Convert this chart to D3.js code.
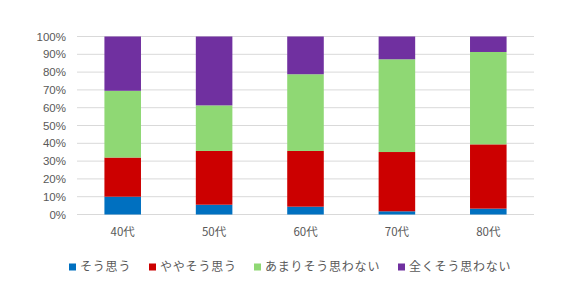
<!DOCTYPE html>
<html>
<head>
<meta charset="utf-8">
<script src="https://cdn.jsdelivr.net/npm/d3@7"></script>
<style>
  body { margin: 0; background: #fff; }
  text { font-family: "Noto Sans CJK JP", "Liberation Sans", sans-serif; }
</style>
</head>
<body>
<svg></svg>
<script>
/** Chart data */
let categories = ['40代', '50代', '60代', '70代', '80代'];
let seriesNames = ['そう思う', 'ややそう思う', 'あまりそう思わない', '全くそう思わない'];
let soOmou = [10, 5.5, 4.4, 1.8, 3.3];
let yayaSoOmou = [22, 30.2, 31.3, 33.3, 36.1];
let amariOmowanai = [37.5, 25.6, 43.1, 52.1, 51.9];
let mattakuOmowanai = [30.5, 38.7, 21.2, 12.8, 8.7];
let yTicks = [0, 10, 20, 30, 40, 50, 60, 70, 80, 90, 100];

let colors = ['#0070C0', '#CC0000', '#8FD874', '#7030A0'];

let width = 565;
let height = 298;

let svg = d3.select('svg')
    .attr('width', width)
    .attr('height', height);

// rows for the stack
let rows = categories.map((c, i) => ({
    cat: c,
    s0: soOmou[i],
    s1: yayaSoOmou[i],
    s2: amariOmowanai[i],
    s3: mattakuOmowanai[i]
}));

let stack = d3.stack().keys(['s0', 's1', 's2', 's3']);
let layers = stack(rows);

let xScale = d3.scaleBand()
    .domain(categories)
    .range([77, 534])
    .paddingInner(0.6)
    .paddingOuter(0.3);

let yScale = d3.scaleLinear()
    .domain([0, 100])
    .range([214.5, 36.5]);

// gridlines
svg.append('g')
    .selectAll('line')
    .data(yTicks)
    .enter()
    .append('line')
    .attr('x1', 77)
    .attr('x2', 534)
    .attr('y1', d => yScale(d))
    .attr('y2', d => yScale(d))
    .attr('stroke', '#d9d9d9')
    .attr('stroke-width', 1);

// bars
svg.append('g')
    .selectAll('g')
    .data(layers)
    .enter()
    .append('g')
    .attr('fill', (d, i) => colors[i])
    .selectAll('rect')
    .data(d => d)
    .enter()
    .append('rect')
    .attr('x', d => xScale(d.data.cat))
    .attr('width', xScale.bandwidth())
    .attr('y', d => yScale(d[1]))
    .attr('height', d => yScale(d[0]) - yScale(d[1]));

// y axis labels
let yAxis = d3.axisLeft(yScale)
    .tickValues(yTicks)
    .tickFormat(d => d + '%')
    .tickSize(0)
    .tickPadding(0);

svg.append('g')
    .attr('transform', 'translate(66, 0)')
    .call(yAxis)
    .call(g => g.select('.domain').remove())
    .call(g => g.selectAll('text')
        .attr('fill', '#595959')
        .style('font-size', '11.5px')
        .style('font-family', '"Liberation Sans", sans-serif'));

// x axis labels
let xAxis = d3.axisBottom(xScale)
    .tickSize(0)
    .tickPadding(0);

svg.append('g')
    .attr('transform', 'translate(0, 228)')
    .call(xAxis)
    .call(g => g.select('.domain').remove())
    .call(g => g.selectAll('text')
        .attr('fill', '#595959')
        .style('font-size', '11.5px'));

// legend
let legendX = [69, 149, 254, 398];
let legend = svg.append('g')
    .selectAll('g')
    .data(seriesNames)
    .enter()
    .append('g')
    .attr('transform', (d, i) => `translate(${legendX[i]}, 267)`);

legend.append('rect')
    .attr('x', 0)
    .attr('y', -3.5)
    .attr('width', 7)
    .attr('height', 7)
    .attr('fill', (d, i) => colors[i]);

legend.append('text')
    .attr('x', 11)
    .attr('y', 0)
    .attr('dy', '0.35em')
    .attr('fill', '#595959')
    .style('font-size', '12px')
    .style('letter-spacing', '0.8px')
    .text(d => d);
</script>
</body>
</html>
